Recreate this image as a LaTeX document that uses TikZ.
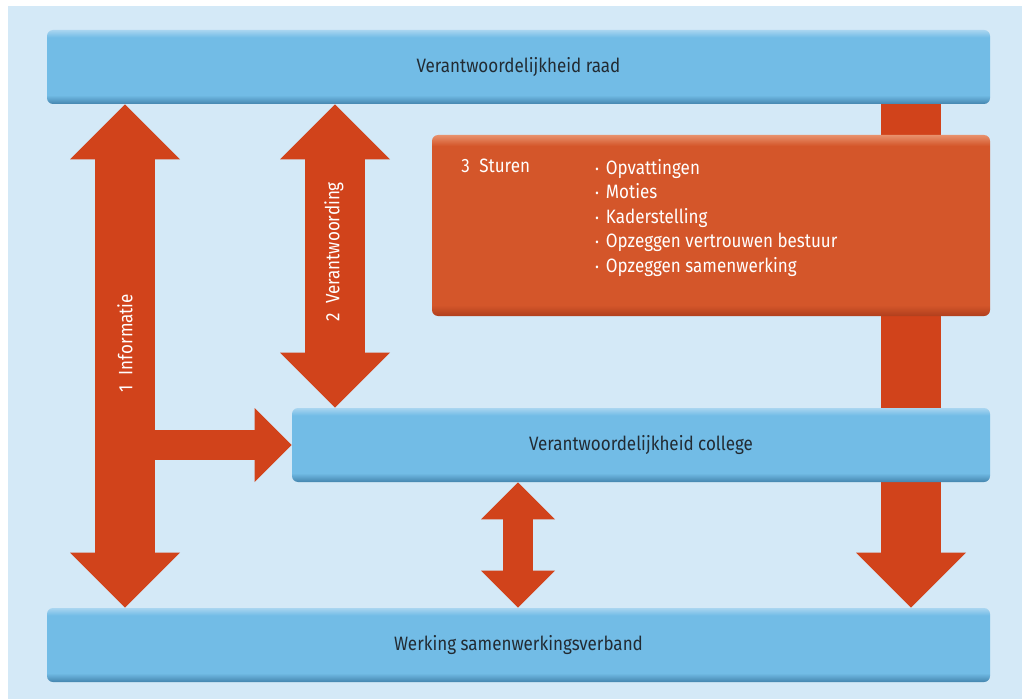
\documentclass[tikz,border=0pt]{standalone}
\usepackage{fontspec}
\setmainfont{Fira Sans}[FakeStretch=0.88]
\usetikzlibrary{arrows.meta, positioning}

\definecolor{panelbg}{HTML}{D4E9F7}
\definecolor{barmain}{HTML}{72BCE6}
\definecolor{barlight}{HTML}{A9D5F0}
\definecolor{bardark}{HTML}{4485AE}
\definecolor{boxmain}{HTML}{D4562A}
\definecolor{boxlight}{HTML}{E8916C}
\definecolor{boxdark}{HTML}{B03F1D}
\definecolor{arrowred}{HTML}{D1431B}
\definecolor{bartext}{HTML}{222B33}

\pgfdeclareverticalshading{barshade}{100bp}{color(0bp)=(bardark); color(25bp)=(bardark); color(31bp)=(barmain); color(70bp)=(barmain); color(75bp)=(barlight); color(100bp)=(barlight)}
\pgfdeclareverticalshading{boxshade}{100bp}{color(0bp)=(boxdark); color(25bp)=(boxdark); color(28bp)=(boxmain); color(72bp)=(boxmain); color(75bp)=(boxlight); color(100bp)=(boxlight)}

\newcommand{\punt}{\makebox[8pt][l]{\fontsize{9}{9}\selectfont\raisebox{0.15ex}{•}}}

\begin{document}
\begin{tikzpicture} [
	x=0.75pt, y=-0.75pt, % one unit is one pixel of the reference, y downwards
	bar/.style={rounded corners=4.5pt, shading=barshade, minimum height=55.5pt, inner sep=0pt, text=bartext, font=\fontsize{14.5}{17}\selectfont}, % the blue bars
	bigtip/.tip={Triangle[length=41.25pt, width=82.5pt, line width=0pt]},
	smalltip/.tip={Triangle[length=27.75pt, width=55.5pt, line width=0pt]},
	bigarrow/.style={draw=arrowred, line width=45pt}, % wide red arrows
	smallarrow/.style={draw=arrowred, line width=22.5pt}, % narrow red arrows
	label/.style={text=white, font=\fontsize{14.5}{18.4}\selectfont, inner sep=0pt},
	]
	\useasboundingbox (0,0) rectangle (1022,699);
	\fill[panelbg] (8,6) rectangle (1022,699);

	\node[bar, minimum width=707.25pt] (raad) at (518.5,67) {Verantwoordelijkheid raad};
	\node[bar, minimum width=707.25pt] (werking) at (518.5,645) {Werking samenwerkingsverband};

	% 3 Sturen runs behind the box and the college bar
	\draw[bigarrow, -bigtip] (raad.south -| 911,0) -- (werking.north -| 911,0);

	\node[bar, minimum width=523.5pt] (college) at (641,445) {Verantwoordelijkheid college};
	\node[rounded corners=4.5pt, shading=boxshade, minimum width=418.5pt, minimum height=135.75pt] (sturen) at (711,225.5) {};
	\node[label, anchor=north west] (sturentitel) at (461,159) {3\enspace Sturen};
	\node[label, anchor=north west, align=left] (punten) at (595,159)
		{\punt Opvattingen\\ \punt Moties\\ \punt Kaderstelling\\ \punt Opzeggen vertrouwen bestuur\\ \punt Opzeggen samenwerking};

	\draw[bigarrow, bigtip-bigtip] (raad.south -| 125,0) -- (werking.north -| 125,0);
	\draw[smallarrow, -smalltip] (college.west -| 125,0) -- (college.west);
	\draw[bigarrow, bigtip-bigtip] (raad.south -| 335,0) -- (college.north -| 335,0);
	\draw[smallarrow, smalltip-smalltip] (college.south -| 518,0) -- (werking.north -| 518,0);

	\node[label, rotate=90] (informatie) at (125,343) {1\enspace Informatie};
	\node[label, rotate=90] (verantwoording) at (334,252) {2\enspace Verantwoording};
\end{tikzpicture}
\end{document}
